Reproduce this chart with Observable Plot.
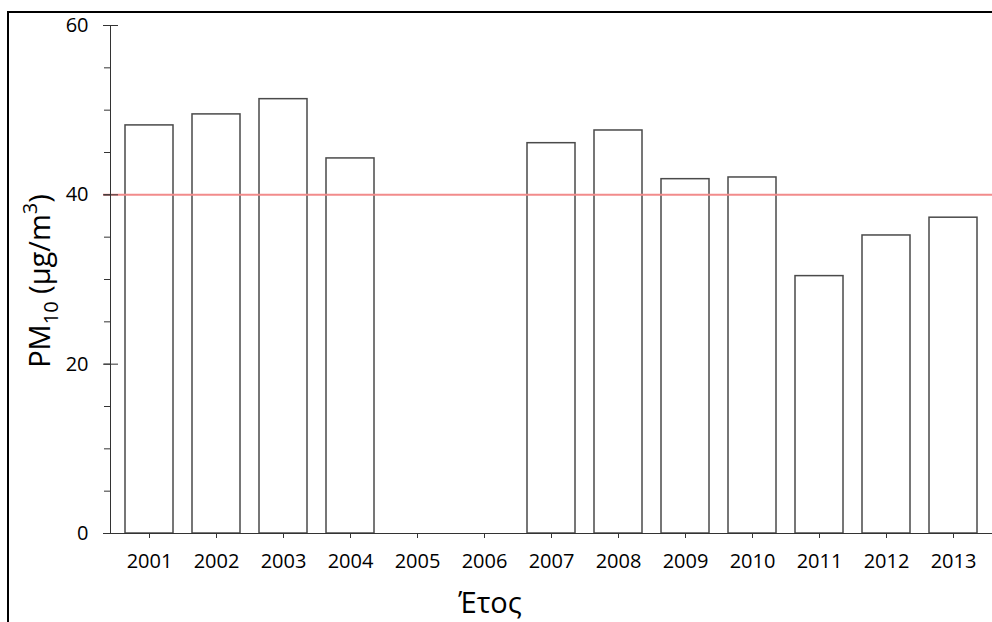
<!DOCTYPE html>
<html>
<head>
<meta charset="utf-8">
<script src="https://cdn.jsdelivr.net/npm/d3@7"></script>
<script src="https://cdn.jsdelivr.net/npm/@observablehq/plot@0.6"></script>
<style>
  html, body { margin: 0; padding: 0; background: #fff; overflow: hidden; }
  #wrap { position: relative; width: 992px; height: 622px; }
  #border { position: absolute; left: 7px; top: 11px; width: 1000px; height: 700px;
            border-top: 2px solid #000; border-left: 2px solid #000; pointer-events: none; }
</style>
</head>
<body>
<div id="wrap"><div id="chart"></div><div id="border"></div></div>
<script>
const years = ["2001","2002","2003","2004","2005","2006","2007","2008","2009","2010","2011","2012","2013"];
const pm10 = [48.2, 49.5, 51.3, 44.3, null, null, 46.1, 47.6, 41.85, 42.05, 30.4, 35.2, 37.3];
const limitValue = [40];
const yMajorTicks = [0, 20, 40, 60];
const yMinorTicks = [0, 5, 10, 15, 20, 25, 30, 35, 40, 45, 50, 55, 60];
const xLabel = "Έτος";

const data = years.map((y, i) => ({year: y, value: pm10[i]}));

const plot = Plot.plot({
  width: 992,
  height: 622,
  marginLeft: 110,
  marginRight: 0,
  marginTop: 25,
  marginBottom: 89,
  style: {fontFamily: "'Open Sans', sans-serif", fontSize: "20px", color: "#000", background: "#fff"},
  x: {domain: years, paddingInner: 0.285, paddingOuter: 0.1425, label: null},
  y: {domain: [0, 60], label: null},
  marks: [
    Plot.barY(data.filter(d => d.value != null), {x: "year", y: "value", fill: "#fff", stroke: "#4a4a4a", strokeWidth: 1.5}),
    Plot.ruleY(limitValue, {stroke: "#f28b8b", strokeWidth: 2, insetLeft: -7}),
    Plot.frame({anchor: "left", stroke: "#333", strokeWidth: 1}),
    Plot.ruleY([0], {stroke: "#333", strokeWidth: 1, insetLeft: -7}),
    Plot.axisY({ticks: yMinorTicks, tickSize: 6, stroke: "#333", text: null, label: null}),
    Plot.axisY({ticks: yMajorTicks, tickSize: -8, stroke: "#333", text: null, label: null}),
    Plot.axisY({ticks: yMajorTicks, tickSize: 7, tickPadding: 15, stroke: "#333", fill: "#000", fontSize: 20, label: null}),
    Plot.axisX({tickSize: 5, tickPadding: 15, stroke: "#333", fill: "#000", fontSize: 20, label: null})
  ]
});
document.getElementById("chart").appendChild(plot);

const svg = d3.select(plot);
// x axis label
svg.append("text")
  .attr("x", 490).attr("y", 613)
  .attr("text-anchor", "middle")
  .style("font-size", "29px")
  .attr("fill", "#000")
  .text(xLabel);
// y axis label with subscript / superscript
const yl = svg.append("text")
  .attr("transform", "translate(50,281) rotate(-90)")
  .attr("text-anchor", "middle")
  .style("font-size", "29px")
  .attr("fill", "#000");
yl.append("tspan").text("PM");
yl.append("tspan").style("font-size", "20px").attr("dy", 8).text("10");
yl.append("tspan").attr("dy", -8).text(" (µg/m");
yl.append("tspan").style("font-size", "20px").attr("dy", -13).text("3");
yl.append("tspan").attr("dy", 13).text(")");
</script>
</body>
</html>
